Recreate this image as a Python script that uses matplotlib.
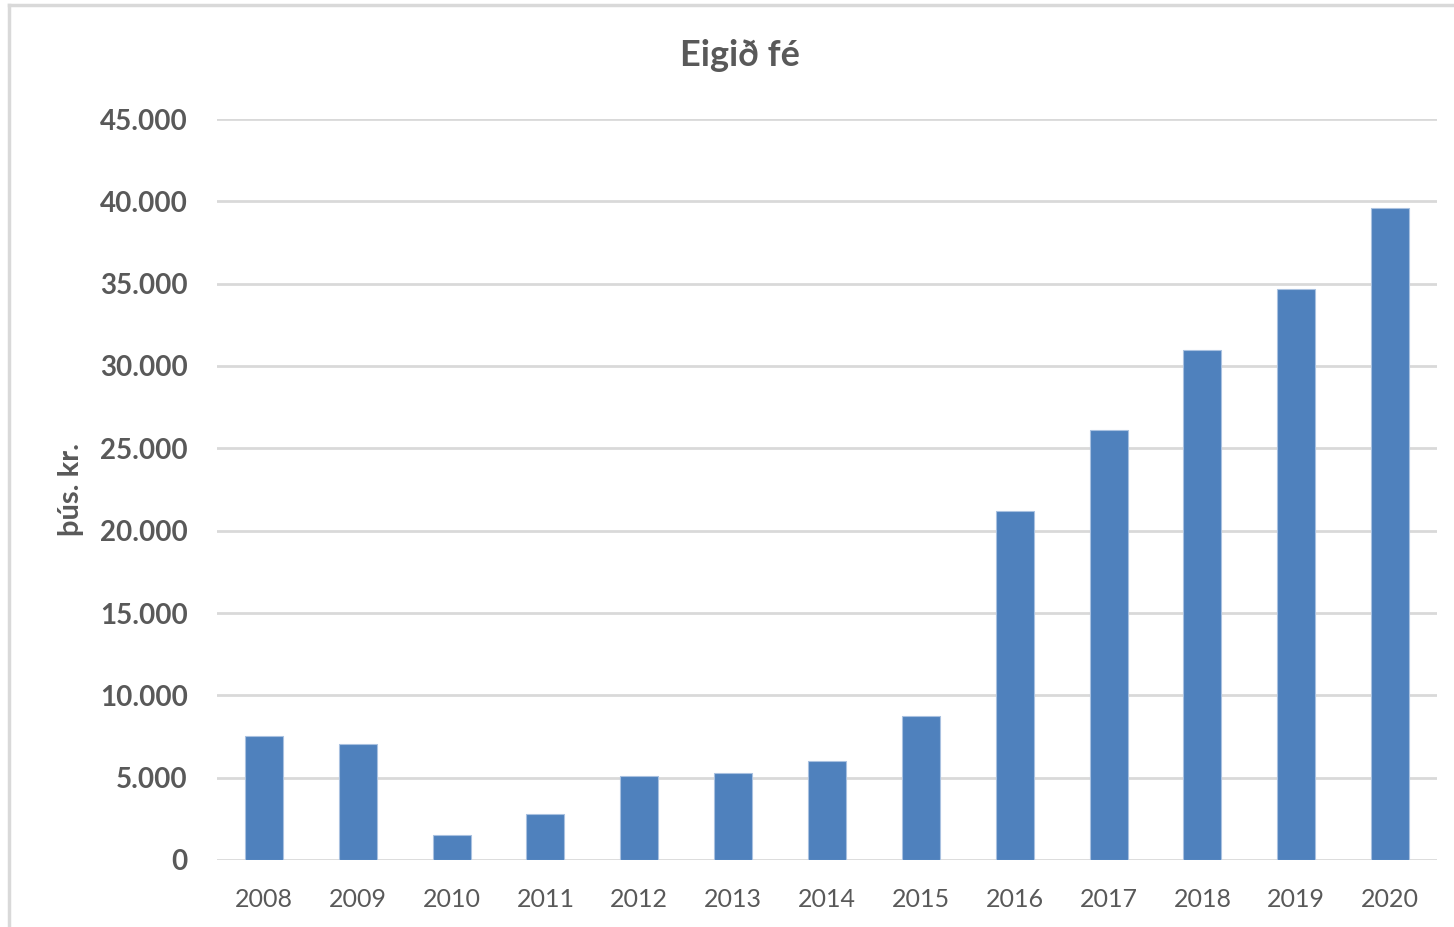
import matplotlib
matplotlib.use("Agg")
import matplotlib.pyplot as plt
from matplotlib.ticker import FuncFormatter
from matplotlib.lines import Line2D

# ---- data ----
years = ["2008", "2009", "2010", "2011", "2012", "2013", "2014",
         "2015", "2016", "2017", "2018", "2019", "2020"]
equity = [7530, 7050, 1520, 2790, 5100, 5280, 6010,
          8750, 21200, 26110, 30970, 34680, 39600]

TITLE = "Eigið fé"
YLABEL = "þús. kr."

BAR = "#4f81bd"
TXT = "#595959"
GRID = "#d9d9d9"

plt.rcParams["font.family"] = ["Lato", "DejaVu Sans"]

fig = plt.figure(figsize=(14.54, 9.27), dpi=100)
ax = fig.add_axes([217 / 1454, 1 - 860 / 927, 1220 / 1454, 741 / 927])

x = range(len(years))
ax.bar(x, equity, width=0.405, color=BAR, edgecolor="#a9c1e0", linewidth=0.8, zorder=3)

ax.set_xlim(-0.5, len(years) - 0.5)
ax.set_ylim(0, 45000)
ax.set_yticks(range(0, 45001, 5000))
ax.yaxis.set_major_formatter(FuncFormatter(lambda v, p: f"{int(v):,}".replace(",", ".")))
ax.set_xticks(list(x))
ax.set_xticklabels(years)

ax.grid(axis="y", color=GRID, linewidth=2, zorder=0)
for s in ax.spines.values():
    s.set_visible(False)
ax.tick_params(axis="both", length=0)
ax.tick_params(axis="y", labelsize=20, labelcolor=TXT, pad=21)
ax.tick_params(axis="x", labelsize=18, labelcolor=TXT, pad=20)
for lab in ax.get_yticklabels():
    lab.set_fontweight("bold")

ax.set_ylabel(YLABEL, fontsize=21, fontweight="bold", color=TXT)
ax.yaxis.set_label_coords(84 / 1454, 1 - 490 / 927, transform=fig.transFigure)

fig.text(740 / 1454, 1 - 55 / 927, TITLE, ha="center", va="center",
         fontsize=26, fontweight="bold", color=TXT)

# light frame on the left and top edges
fig.add_artist(Line2D([9 / 1454, 9 / 1454], [0, 1 - 5 / 927], transform=fig.transFigure,
                      color="#d9d9d9", linewidth=2.5))
fig.add_artist(Line2D([9 / 1454, 1], [1 - 5 / 927, 1 - 5 / 927], transform=fig.transFigure,
                      color="#d9d9d9", linewidth=2.5))

fig.savefig("out.png", dpi=100, facecolor="white")
